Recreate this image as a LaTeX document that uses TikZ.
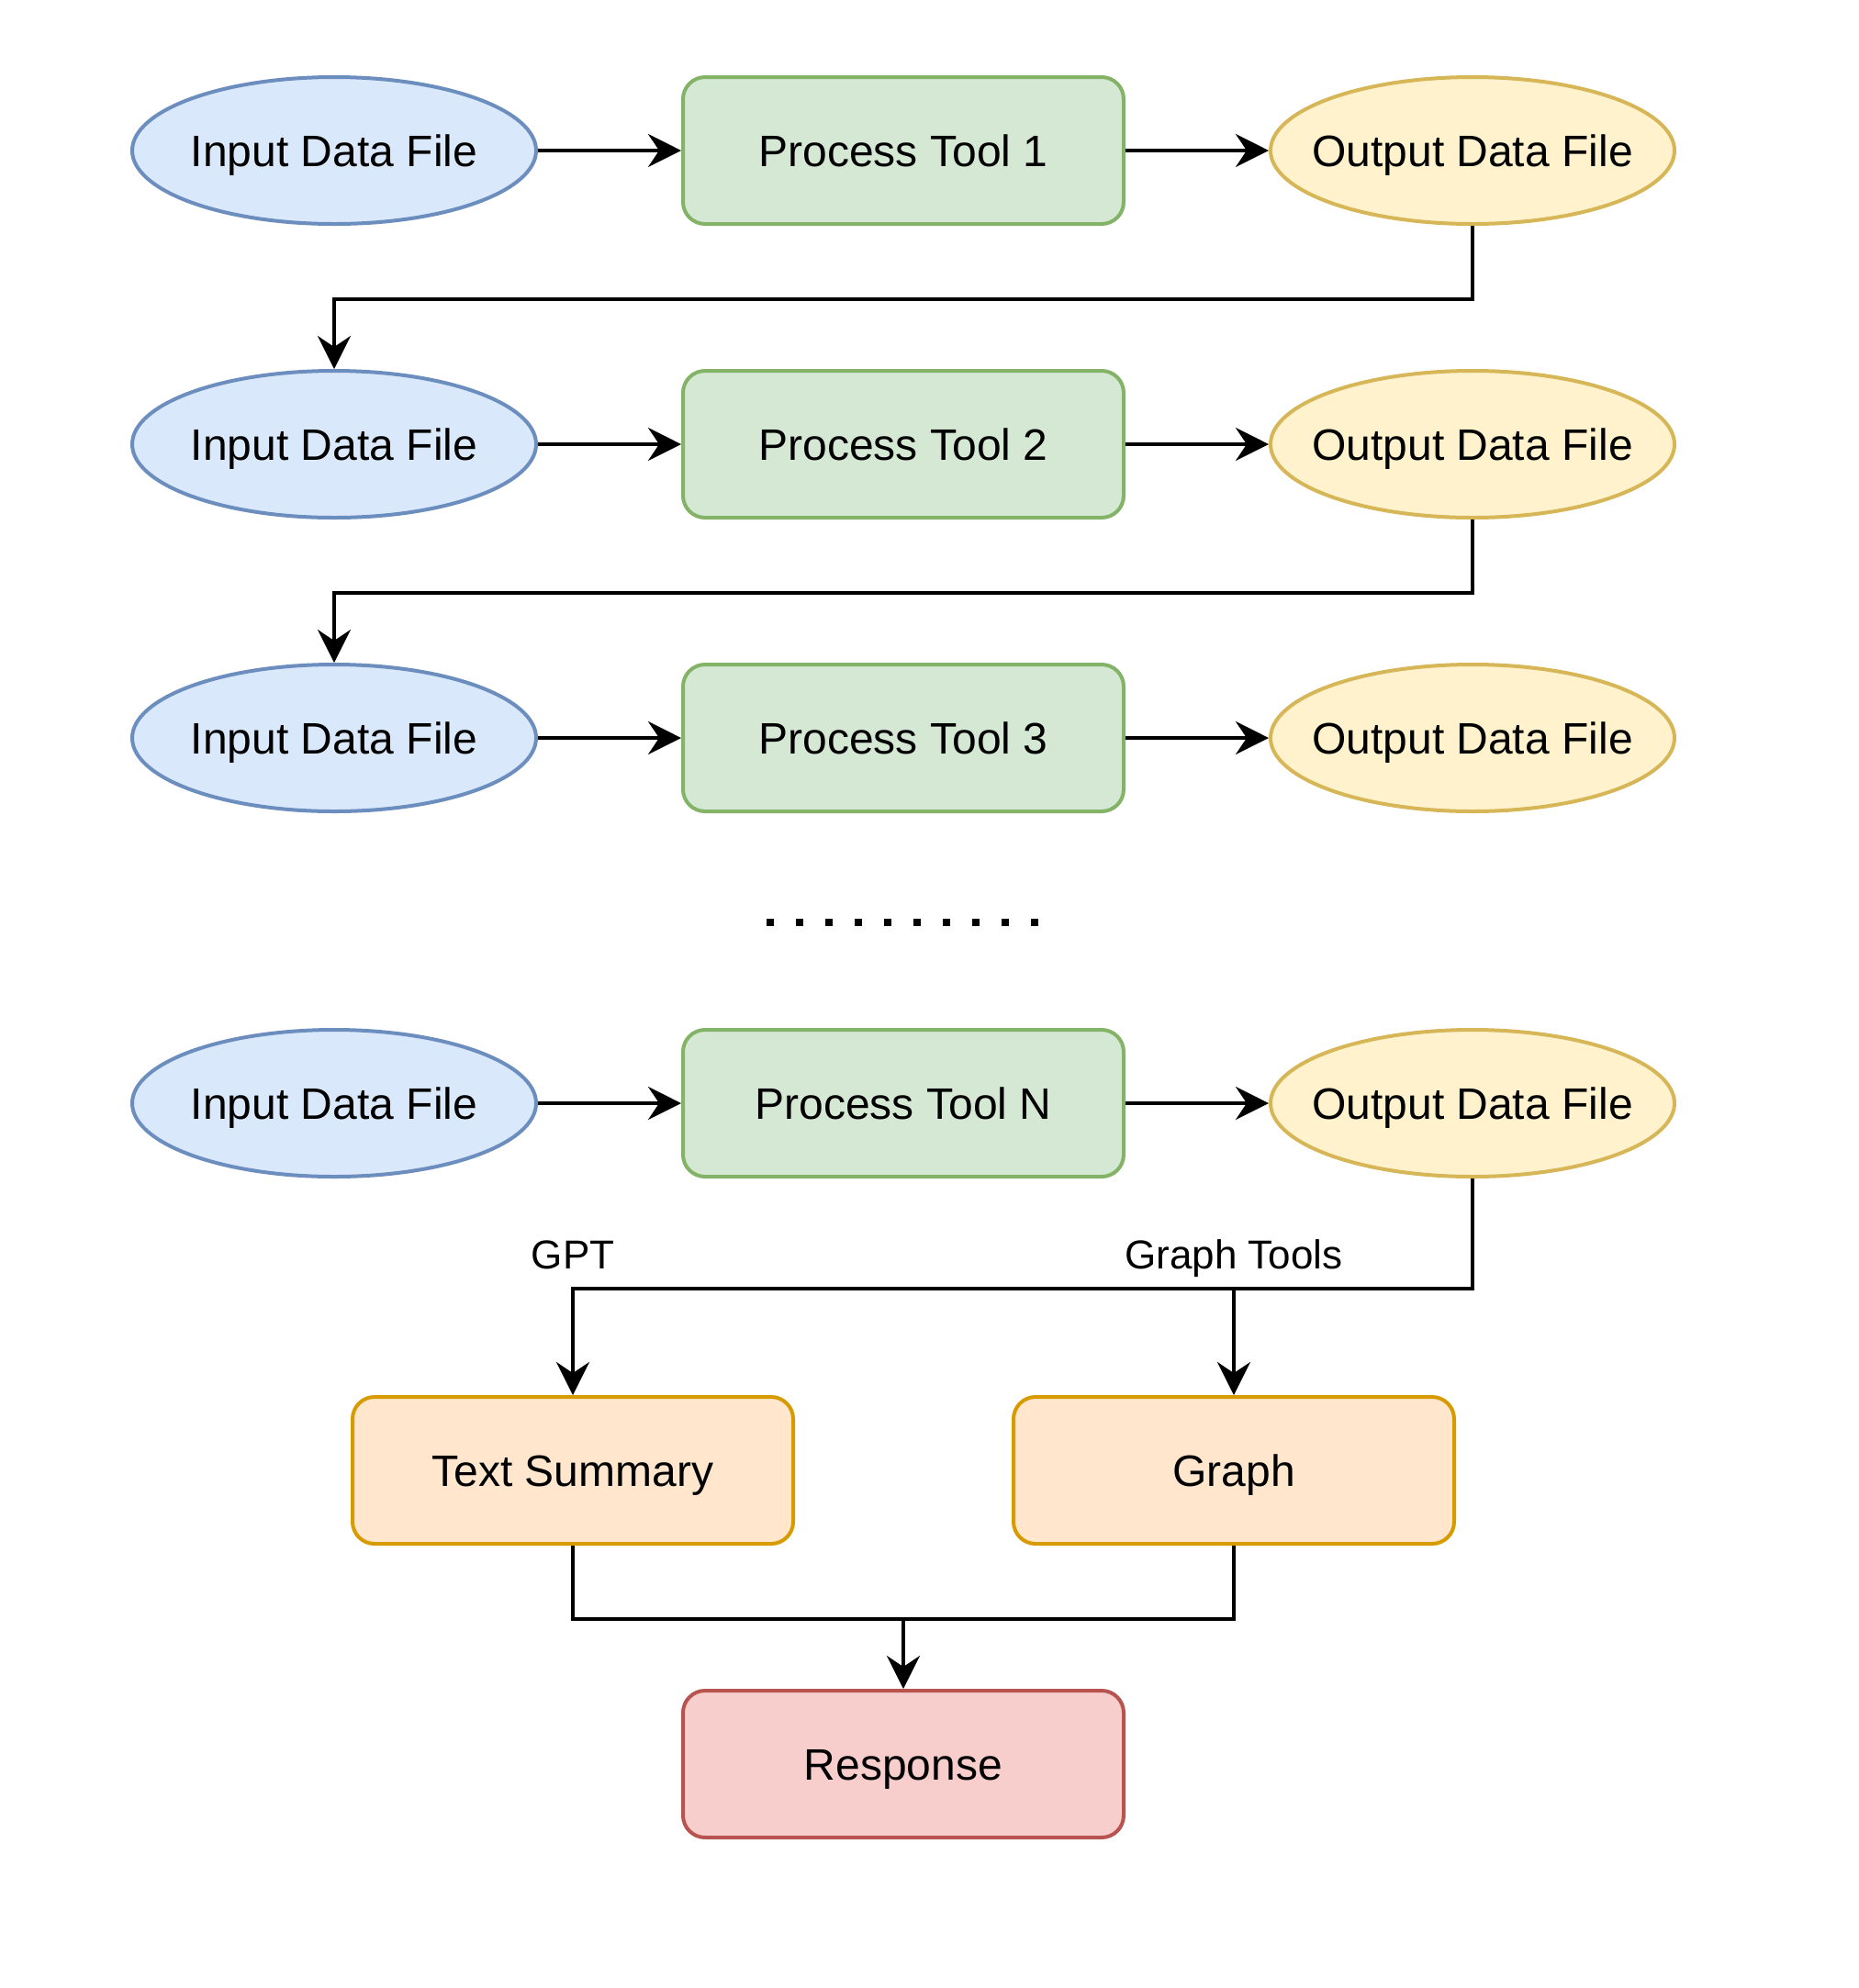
\documentclass[tikz,border=0pt]{standalone}
\usepackage{fontspec}
\setmainfont{Liberation Sans}
\usetikzlibrary{calc,arrows.meta,shapes.geometric}

\definecolor{inFill}{HTML}{DAE8FC}
\definecolor{inLine}{HTML}{6C8EBF}
\definecolor{toolFill}{HTML}{D5E8D4}
\definecolor{toolLine}{HTML}{82B366}
\definecolor{outFill}{HTML}{FFF2CC}
\definecolor{outLine}{HTML}{D6B656}
\definecolor{sumFill}{HTML}{FFE6CC}
\definecolor{sumLine}{HTML}{D79B00}
\definecolor{respFill}{HTML}{F8CECC}
\definecolor{respLine}{HTML}{B85450}

\begin{document}
\begin{tikzpicture}[x=1pt,y=-1pt,
    every node/.style={font=\fontsize{12}{14}\selectfont, text height=8.6pt, text depth=0pt},
    datain/.style={ellipse, draw=inLine, fill=inFill, line width=1pt,
                   minimum width=110pt, minimum height=40pt, inner sep=0pt, inner xsep=-30pt},
    dataout/.style={datain, draw=outLine, fill=outFill},
    tool/.style={rectangle, rounded corners=6pt, draw=toolLine, fill=toolFill, line width=1pt,
                 minimum width=120pt, minimum height=40pt, inner sep=0pt},
    result/.style={tool, draw=sumLine, fill=sumFill},
    reply/.style={tool, draw=respLine, fill=respFill},
    flow/.style={-{Stealth[length=9pt,width=9pt,inset=3pt]}, line width=1pt, black},
    tag/.style={font=\fontsize{11}{13}\selectfont, anchor=base, inner sep=0pt}]
     %\draw[step=20pt,very thin,color=blue!20] (0,0) grid (500,540);
     \useasboundingbox (0,0) rectangle (506.25,541.5);

     \foreach \r/\y/\t in {1/41/1, 2/121/2, 3/201/3, n/300.5/N} {
       \node[datain] (in\r) at (91,\y) {Input Data File};
       \node[tool] (tool\r) at (246,\y) {Process Tool \t};
       \node[dataout] (out\r) at (401,\y) {Output Data File};
       \draw[flow] (in\r) -- (tool\r);
       \draw[flow] (tool\r) -- (out\r);
     }

     \draw[flow] (out1.south) -- ++(0,20) -| (in2.north);
     \draw[flow] (out2.south) -- ++(0,20) -| (in3.north);

     \foreach \k in {0,...,9}
       \fill (208.75+8*\k,250.3) rectangle ++(2,2);

     \node[result] (summ) at (156,400.5) {Text Summary};
     \node[result] (graph) at (336,400.5) {Graph};
     \node[reply] (resp) at (246,480.5) {Response};

     \coordinate (split) at ($(outn.south)+(0,30)$);
     \draw[flow] (outn.south) -- (split) -| (summ.north);
     \draw[flow] (split) -| (graph.north);
     \node[tag] (gpt) at (156,345.7) {GPT};
     \node[tag] (gtools) at (336,345.7) {Graph Tools};

     \coordinate (merge) at ($(summ.south)+(0,20)$);
     \draw[line width=1pt] (summ.south) -- (merge) -| (graph.south);
     \draw[flow] (merge -| resp.north) -- (resp.north);
  \end{tikzpicture}
\end{document}
